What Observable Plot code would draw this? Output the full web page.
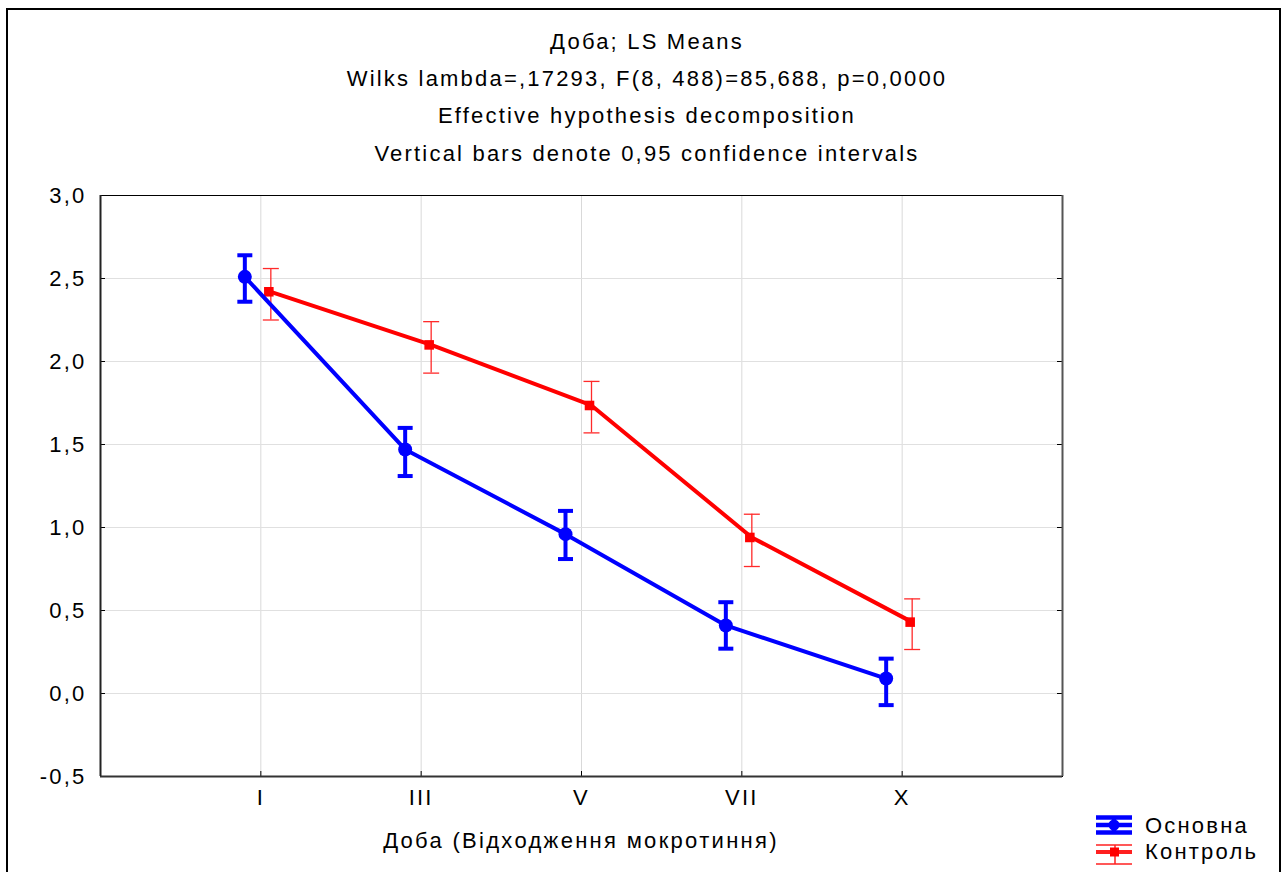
<!DOCTYPE html>
<html><head><meta charset="utf-8">
<script src="https://cdn.jsdelivr.net/npm/d3@7"></script>
<script src="https://cdn.jsdelivr.net/npm/@observablehq/plot@0.6"></script>
<style>
html,body{margin:0;padding:0;background:#fff;overflow:hidden;}
#wrap{position:relative;width:1288px;height:872px;font-family:"Liberation Sans",Arial,sans-serif;color:#000;}
#frame{position:absolute;left:6px;top:8px;width:1275px;height:900px;border:2px solid #000;box-sizing:border-box;}
.t{position:absolute;left:0;width:1294px;text-align:center;font-size:22px;line-height:24px;letter-spacing:2.2px;white-space:nowrap;}
#chart{position:absolute;left:0;top:0;}
#chart svg text{letter-spacing:2.2px;}
#xlabel{position:absolute;left:0;width:1162px;top:829px;text-align:center;font-size:22px;line-height:24px;letter-spacing:2.3px;white-space:nowrap;}
#legend{position:absolute;left:1090px;top:810px;}
</style></head><body>
<div id="wrap">
<div id="frame"></div>
<div id="chart"></div>
<div class="t" style="top:30px">Доба; LS Means</div>
<div class="t" style="top:67px">Wilks lambda=,17293, F(8, 488)=85,688, p=0,0000</div>
<div class="t" style="top:104px">Effective hypothesis decomposition</div>
<div class="t" style="top:142px">Vertical bars denote 0,95 confidence intervals</div>
<div id="xlabel">Доба (Відходження мокротиння)</div>
<svg id="legend" width="190" height="60" style="font-family:'Liberation Sans',Arial,sans-serif">
  <g stroke="#0000ff" stroke-width="4.5">
    <line x1="6" x2="42" y1="7.5" y2="7.5"/>
    <line x1="6" x2="42" y1="15" y2="15"/>
    <line x1="6" x2="42" y1="22.5" y2="22.5"/>
    <line x1="24" x2="24" y1="7.5" y2="22.5"/>
  </g>
  <circle cx="24" cy="15" r="5.5" fill="#0000ff"/>
  <g stroke="#ff2020">
    <line x1="6" x2="42" y1="35" y2="35" stroke-width="1.5"/>
    <line x1="6" x2="42" y1="42" y2="42" stroke-width="4"/>
    <line x1="6" x2="42" y1="54" y2="54" stroke-width="1.5"/>
    <line x1="25" x2="25" y1="35" y2="54" stroke-width="1.5"/>
  </g>
  <rect x="20" y="37.5" width="9" height="9" fill="#ff0000"/>
  <text x="55" y="23" font-size="22" letter-spacing="2.2">Основна</text>
  <text x="55" y="49" font-size="22" letter-spacing="2.2">Контроль</text>
</svg>
</div>
<script>
const categories = ["I", "III", "V", "VII", "X"];
const osnovnaMean = [2.51, 1.47, 0.96, 0.41, 0.09];
const osnovnaLow  = [2.36, 1.31, 0.81, 0.27, -0.07];
const osnovnaHigh = [2.64, 1.60, 1.10, 0.55, 0.21];
const kontrolMean = [2.42, 2.10, 1.735, 0.94, 0.43];
const kontrolLow  = [2.25, 1.93, 1.57, 0.765, 0.265];
const kontrolHigh = [2.56, 2.24, 1.88, 1.08, 0.57];
const yTicks = [-0.5, 0, 0.5, 1.0, 1.5, 2.0, 2.5, 3.0];

const idx = categories.map((c, i) => i + 1);
const rows = (m, lo, hi) => categories.map((c, i) => ({cat: c, i: i + 1, mean: m[i], lo: lo[i], hi: hi[i]}));
const osn = rows(osnovnaMean, osnovnaLow, osnovnaHigh);
const kon = rows(kontrolMean, kontrolLow, kontrolHigh);

const fmt = d => d3.format(".1f")(d).replace(".", ",").replace("−", "-");
const hbar = {draw(ctx, size) { const r = Math.sqrt(size / Math.PI); ctx.moveTo(-r, 0); ctx.lineTo(r, 0); }};

const BLUE = "#0000ff", RED = "#ff0000", RED2 = "#ff2a2a";
const dB = -16, dR = 10;
const W = 1288, H = 872, mL = 100, mR = 226, mT = 195, mB = 96;
const fw = W - mL - mR, fh = H - mT - mB;

const chart = Plot.plot({
  width: W, height: H,
  marginLeft: mL, marginRight: mR, marginTop: mT, marginBottom: mB,
  x: {domain: [0, categories.length + 1]},
  y: {domain: [yTicks[0], yTicks[yTicks.length - 1]]},
  style: {fontFamily: "'Liberation Sans', Arial, sans-serif", background: "transparent", overflow: "visible"},
  marks: [
    Plot.gridX(idx, {stroke: "#d9d9d9", strokeOpacity: 1}),
    Plot.gridY(yTicks.slice(1, -1), {stroke: "#e0e0e0", strokeOpacity: 1}),
    Plot.axisY(yTicks, {tickSize: 0, tickPadding: 14, tickFormat: fmt, fontSize: 22, label: null, fill: "#000"}),
    Plot.axisX(idx, {tickSize: 0, tickPadding: 13, tickFormat: i => categories[i - 1], fontSize: 22, label: null, fill: "#000"}),
    Plot.tickY(yTicks, {y: d => d, insetRight: fw - 5, stroke: "#000"}),
    Plot.tickY(yTicks, {y: d => d, insetLeft: fw - 5, stroke: "#000"}),
    Plot.tickX(idx, {x: d => d, insetTop: fh - 5, stroke: "#000"}),
    Plot.frame({stroke: "#000", strokeWidth: 1}),
    Plot.ruleY([yTicks[0]], {stroke: "#333", strokeWidth: 2}),
    Plot.ruleX([0], {stroke: "#222", strokeWidth: 2}),
    Plot.ruleX([categories.length + 1], {stroke: "#555", strokeWidth: 2}),
    // Контроль
    Plot.ruleX(kon, {x: "i", y1: "lo", y2: "hi", dx: dR, stroke: RED2, strokeWidth: 1.3}),
    Plot.dot(kon, {x: "i", y: "lo", dx: dR, symbol: hbar, r: 8, stroke: RED2, strokeWidth: 1.3}),
    Plot.dot(kon, {x: "i", y: "hi", dx: dR, symbol: hbar, r: 8, stroke: RED2, strokeWidth: 1.3}),
    Plot.line(kon, {x: "i", y: "mean", dx: dR, stroke: RED, strokeWidth: 4}),
    Plot.dot(kon, {x: "i", y: "mean", dx: dR - 2, symbol: "square", r: 5.4, fill: RED}),
    // Основна
    Plot.ruleX(osn, {x: "i", y1: "lo", y2: "hi", dx: dB, stroke: BLUE, strokeWidth: 4}),
    Plot.dot(osn, {x: "i", y: "lo", dx: dB, symbol: hbar, r: 7.5, stroke: BLUE, strokeWidth: 4}),
    Plot.dot(osn, {x: "i", y: "hi", dx: dB, symbol: hbar, r: 7.5, stroke: BLUE, strokeWidth: 4}),
    Plot.line(osn, {x: "i", y: "mean", dx: dB, stroke: BLUE, strokeWidth: 4}),
    Plot.dot(osn, {x: "i", y: "mean", dx: dB, r: 7, fill: BLUE})
  ]
});
document.getElementById("chart").appendChild(chart);
</script>
</body></html>
